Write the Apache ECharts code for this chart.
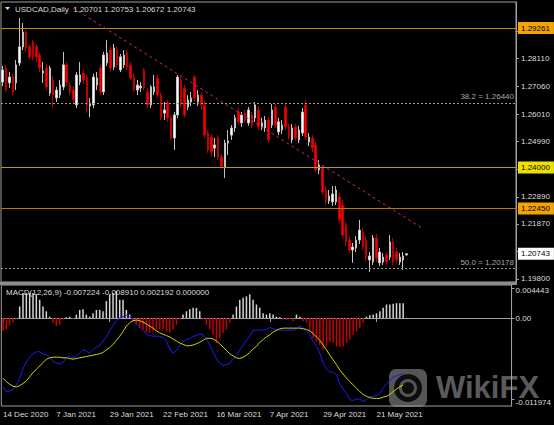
<!DOCTYPE html>
<html><head><meta charset="utf-8">
<script src="https://cdn.jsdelivr.net/npm/echarts@6.0.0/dist/echarts.min.js"></script>
<style>html,body{margin:0;padding:0;background:#000;}#c{width:554px;height:425px;}</style>
</head><body><div id="c"></div>
<script>
// ---- data ----
const symbolName = 'USDCAD,Daily';
const dateLabels = ['14 Dec 2020','7 Jan 2021','29 Jan 2021','22 Feb 2021','16 Mar 2021','7 Apr 2021','29 Apr 2021','21 May 2021'];
const dateLabelIdx = [0,16,32,48,64,80,96,112];
const priceTicks = [1.29150,1.28110,1.27060,1.26010,1.24990,1.23940,1.22890,1.21870,1.20820,1.19800];
const priceLabels = [1.29150,1.28110,1.27060,1.26010,1.24990,1.22890,1.21870,1.19800];
const macdTicks = [0.004443, 0, -0.011974];
const hLines = [1.29261, 1.24000, 1.22450];
const fibNames = ['38.2','50.0'];
const fibLevels = [1.26440, 1.20178];
const trendStart = [21, 1.3001];
const trendEnd = [125, 1.2168];
const macdLegendValues = ['-0.007224','-0.008910','0.002192','0.000000'];

const open = [1.2722,1.2775,1.2719,1.2741,1.2719,1.2794,1.2855,1.2911,1.2855,1.2873,
1.2855,1.2824,1.2756,1.2775,1.2681,1.2730,1.2662,1.2673,1.2704,1.2787,
1.2711,1.2692,1.2636,1.2722,1.2756,1.2738,1.2632,1.2636,1.2711,1.2775,
1.2685,1.2794,1.2843,1.2779,1.2843,1.2768,1.2787,1.2832,1.2787,1.2741,
1.2692,1.2700,1.2768,1.2685,1.2636,1.2685,1.2738,1.2673,1.2605,1.2647,
1.2587,1.2511,1.2598,1.2730,1.2700,1.2628,1.2647,1.2741,1.2647,1.2673,
1.2636,1.2530,1.2515,1.2473,1.2511,1.2439,1.2402,1.2492,1.2522,1.2549,
1.2609,1.2568,1.2605,1.2568,1.2598,1.2587,1.2617,1.2553,1.2549,1.2579,
1.2560,1.2628,1.2534,1.2541,1.2628,1.2553,1.2504,1.2553,1.2504,1.2530,
1.2636,1.2496,1.2511,1.2485,1.2390,1.2398,1.2315,1.2274,1.2270,1.2270,
1.2289,1.2258,1.2183,1.2126,1.2089,1.2096,1.2126,1.2157,1.2126,1.2051,
1.2043,1.2134,1.2040,1.2043,1.2070,1.2062,1.2119,1.2081,1.2043,1.2051,
1.20701];
const close = [1.2768,1.2692,1.2741,1.2685,1.2787,1.2855,1.2911,1.2851,1.2817,1.2817,
1.2817,1.2775,1.2764,1.2704,1.2775,1.2673,1.2692,1.2711,1.2787,1.2722,
1.2685,1.2655,1.2749,1.2749,1.2730,1.2636,1.2643,1.2741,1.2738,1.2685,
1.2824,1.2832,1.2775,1.2851,1.2787,1.2817,1.2824,1.2779,1.2738,1.2692,
1.2711,1.2707,1.2700,1.2636,1.2704,1.2704,1.2673,1.2590,1.2617,1.2587,
1.2511,1.2598,1.2741,1.2636,1.2598,1.2655,1.2662,1.2662,1.2673,1.2636,
1.2522,1.2466,1.2458,1.2485,1.2439,1.2402,1.2492,1.2500,1.2549,1.2587,
1.2572,1.2598,1.2579,1.2617,1.2560,1.2636,1.2553,1.2568,1.2579,1.2504,
1.2617,1.2560,1.2572,1.2560,1.2553,1.2515,1.2549,1.2511,1.2541,1.2609,
1.2515,1.2515,1.2473,1.2390,1.2409,1.2307,1.2270,1.2292,1.2300,1.2315,
1.2202,1.2145,1.2119,1.2089,1.2100,1.2126,1.2164,1.2100,1.2058,1.2066,
1.2134,1.2058,1.2081,1.2062,1.2043,1.2119,1.2043,1.2051,1.2062,1.2066,
1.20743];
const low = [1.2707,1.2685,1.2700,1.2673,1.2692,1.2783,1.2843,1.2836,1.2805,1.2805,
1.2798,1.2760,1.2719,1.2692,1.2670,1.2628,1.2647,1.2662,1.2692,1.2707,
1.2673,1.2639,1.2624,1.2711,1.2715,1.2605,1.2590,1.2624,1.2692,1.2673,
1.2673,1.2783,1.2760,1.2768,1.2775,1.2760,1.2775,1.2768,1.2730,1.2685,
1.2673,1.2685,1.2692,1.2624,1.2624,1.2673,1.2662,1.2579,1.2579,1.2572,
1.2504,1.2466,1.2587,1.2624,1.2587,1.2617,1.2632,1.2647,1.2632,1.2617,
1.2511,1.2455,1.2443,1.2439,1.2428,1.2398,1.2360,1.2447,1.2504,1.2534,
1.2560,1.2553,1.2568,1.2557,1.2549,1.2572,1.2541,1.2541,1.2534,1.2492,
1.2549,1.2549,1.2522,1.2526,1.2541,1.2504,1.2492,1.2500,1.2492,1.2519,
1.2504,1.2481,1.2458,1.2383,1.2375,1.2296,1.2258,1.2262,1.2255,1.2258,
1.2194,1.2134,1.2104,1.2077,1.2040,1.2081,1.2111,1.2089,1.2047,1.2006,
1.2032,1.2043,1.2028,1.2032,1.2032,1.2051,1.2032,1.2040,1.2032,1.2013,
1.20672];
const high = [1.2783,1.2787,1.2760,1.2753,1.2805,1.2964,1.2945,1.2919,1.2866,1.2881,
1.2866,1.2836,1.2798,1.2790,1.2783,1.2745,1.2704,1.2730,1.2836,1.2798,
1.2722,1.2707,1.2760,1.2798,1.2768,1.2749,1.2662,1.2753,1.2760,1.2787,
1.2836,1.2881,1.2858,1.2866,1.2855,1.2828,1.2843,1.2843,1.2798,1.2753,
1.2730,1.2722,1.2775,1.2700,1.2711,1.2749,1.2749,1.2685,1.2647,1.2655,
1.2598,1.2609,1.2749,1.2741,1.2711,1.2673,1.2685,1.2749,1.2692,1.2685,
1.2655,1.2541,1.2526,1.2511,1.2522,1.2451,1.2504,1.2541,1.2560,1.2598,
1.2624,1.2609,1.2617,1.2628,1.2609,1.2647,1.2632,1.2587,1.2594,1.2590,
1.2639,1.2639,1.2587,1.2579,1.2639,1.2564,1.2564,1.2564,1.2557,1.2624,
1.2655,1.2530,1.2522,1.2496,1.2428,1.2409,1.2330,1.2315,1.2330,1.2330,
1.2304,1.2277,1.2194,1.2141,1.2115,1.2141,1.2202,1.2172,1.2141,1.2081,
1.2145,1.2149,1.2096,1.2077,1.2081,1.2145,1.2134,1.2096,1.2077,1.2081,
1.20753];
const hist = [-0.0019,-0.0017,-0.0011,-0.0006,-0.0001,0.0017,0.0037,0.0037,0.0037,0.0037,
0.0035,0.0027,0.0017,0.0010,0.0002,-0.0007,-0.0012,-0.0010,-0.0002,0.0001,
0.0002,-0.0001,0.0005,0.0012,0.0013,0.0005,0.0002,0.0007,0.0012,0.0012,
0.0010,0.0025,0.0035,0.0037,0.0040,0.0027,0.0027,0.0012,0.0005,-0.0005,
-0.0010,-0.0015,-0.0017,-0.0021,-0.0022,-0.0020,-0.0017,-0.0017,-0.0017,-0.0020,
-0.0022,-0.0017,-0.0010,-0.0002,0.0005,0.0010,0.0013,0.0015,0.0015,0.0010,
-0.0002,-0.0010,-0.0017,-0.0025,-0.0037,-0.0030,-0.0022,-0.0017,-0.0007,0.0005,
0.0017,0.0027,0.0030,0.0032,0.0035,0.0027,0.0020,0.0015,0.0007,0.0005,
0.0007,0.0005,0.0002,0.0001,-0.0002,-0.0003,-0.0002,-0.0005,0.0005,0.0002,
-0.0005,-0.0007,-0.0020,-0.0030,-0.0035,-0.0040,-0.0047,-0.0042,-0.0035,-0.0037,
-0.0042,-0.0043,-0.0042,-0.0037,-0.0032,-0.0025,-0.0020,-0.0015,-0.0007,0.0002,
0.0004,0.0005,0.0007,0.0010,0.0015,0.0020,0.0020,0.0021,0.0022,0.0022,
0.002192];
const macd = [-0.0102,-0.0109,-0.0108,-0.0106,-0.0099,-0.0090,-0.0075,-0.0065,-0.0058,-0.0053,
-0.0050,-0.0050,-0.0053,-0.0055,-0.0057,-0.0064,-0.0067,-0.0068,-0.0066,-0.0058,
-0.0057,-0.0059,-0.0057,-0.0052,-0.0047,-0.0049,-0.0052,-0.0047,-0.0043,-0.0041,
-0.0034,-0.0028,-0.0019,-0.0011,-0.0004,0.0000,0.0002,0.0004,0.0002,-0.0003,
-0.0009,-0.0013,-0.0018,-0.0024,-0.0026,-0.0027,-0.0027,-0.0027,-0.0029,-0.0034,
-0.0046,-0.0052,-0.0048,-0.0041,-0.0035,-0.0032,-0.0030,-0.0027,-0.0026,-0.0024,
-0.0025,-0.0031,-0.0040,-0.0050,-0.0060,-0.0067,-0.0070,-0.0069,-0.0067,-0.0061,
-0.0055,-0.0047,-0.0040,-0.0033,-0.0027,-0.0018,-0.0018,-0.0018,-0.0018,-0.0017,
-0.0014,-0.0016,-0.0017,-0.0018,-0.0018,-0.0018,-0.0018,-0.0018,-0.0016,-0.0012,
-0.0014,-0.0019,-0.0025,-0.0035,-0.0042,-0.0052,-0.0067,-0.0075,-0.0080,-0.0080,
-0.0084,-0.0097,-0.0105,-0.0112,-0.0121,-0.0122,-0.0120,-0.0120,-0.0124,-0.0121,
-0.0116,-0.0116,-0.0115,-0.0112,-0.0104,-0.0097,-0.0093,-0.0087,-0.0086,-0.0084,
-0.0082];
const signal = [-0.0089,-0.0094,-0.0098,-0.0101,-0.0102,-0.0100,-0.0097,-0.0093,-0.0087,-0.0081,
-0.0076,-0.0071,-0.0066,-0.0061,-0.0059,-0.0058,-0.0058,-0.0058,-0.0059,-0.0059,
-0.0060,-0.0061,-0.0060,-0.0059,-0.0058,-0.0057,-0.0056,-0.0055,-0.0054,-0.0053,
-0.0051,-0.0047,-0.0044,-0.0039,-0.0033,-0.0027,-0.0020,-0.0012,-0.0007,-0.0004,
-0.0003,-0.0004,-0.0006,-0.0009,-0.0012,-0.0015,-0.0019,-0.0022,-0.0024,-0.0026,
-0.0028,-0.0031,-0.0034,-0.0037,-0.0039,-0.0041,-0.0041,-0.0040,-0.0038,-0.0036,
-0.0033,-0.0030,-0.0030,-0.0031,-0.0034,-0.0038,-0.0043,-0.0048,-0.0053,-0.0056,
-0.0059,-0.0060,-0.0058,-0.0055,-0.0051,-0.0046,-0.0042,-0.0036,-0.0032,-0.0028,
-0.0025,-0.0021,-0.0018,-0.0016,-0.0015,-0.0015,-0.0015,-0.0015,-0.0015,-0.0015,
-0.0016,-0.0017,-0.0019,-0.0023,-0.0028,-0.0033,-0.0040,-0.0047,-0.0055,-0.0062,
-0.0069,-0.0077,-0.0083,-0.0089,-0.0094,-0.0099,-0.0104,-0.0109,-0.0113,-0.0116,
-0.0118,-0.0119,-0.0119,-0.0119,-0.0117,-0.0116,-0.0113,-0.0109,-0.0105,-0.0102,
-0.0099];

// ---- chart ----
const FONT = "'Liberation Sans',Arial,sans-serif";
const FS = 8;
const TXT = '#dcdcdc';
const AX = '#a0a0a0';
const N_SLOTS = 153;
const cats = Array.from({length: N_SLOTS}, (_, i) => String(i));
const labelMap = {};
dateLabelIdx.forEach((k, j) => { labelMap[k] = dateLabels[j]; });
const candles = open.map((o, i) => [o, close[i], low[i], high[i]]);
const last = open.length - 1;
const titleText = symbolName + '  ' + [open[last], high[last], low[last], close[last]].map(v => v.toFixed(5)).join(' ');
const macdText = 'MACD(12,26,9) ' + macdLegendValues.join(' ');

function tagLabel(text, bg, fg) {
  return {show: true, position: 'end', distance: 2, formatter: text,
    backgroundColor: bg, color: fg, fontSize: FS, fontFamily: FONT, padding: [2, 4, 1, 3], lineHeight: 9};
}
const hColors = [['#c8860a', '#f5a300'], ['#b0a010', '#f0e000'], ['#b47a0e', '#f5a300']];
const markData = hLines.map((v, k) => ({
  yAxis: v, lineStyle: {color: hColors[k][0], width: 1, type: 'solid'}, label: tagLabel(v.toFixed(5), hColors[k][1], '#000')
}));
fibLevels.forEach((v, k) => markData.push({
  yAxis: v, lineStyle: {color: '#9a9a9a', width: 1, type: [2, 2]},
  label: {show: true, position: 'insideEndTop', distance: 2, formatter: fibNames[k] + ' = ' + v.toFixed(5),
    color: '#a8a8a8', fontSize: FS, fontFamily: FONT}
}));
markData.push({
  yAxis: close[last], lineStyle: {color: 'rgba(0,0,0,0)', width: 0},
  label: tagLabel(close[last].toFixed(5), '#ffffff', '#000')
});
markData.push([
  {coord: [String(trendStart[0]), trendStart[1]], lineStyle: {color: '#c8208c', width: 1, type: [3, 3]}, label: {show: false}},
  {coord: [String(trendEnd[0]), trendEnd[1]]}
]);
const richBase = {color: TXT, fontSize: FS, fontFamily: FONT};

const chart = echarts.init(document.getElementById('c'), null, {renderer: 'svg'});
chart.setOption({
  backgroundColor: '#000',
  animation: false,
  title: [
    {text: titleText, left: 15, top: 5, padding: 0, textStyle: {color: TXT, fontSize: FS, fontWeight: 'normal', fontFamily: FONT}},
    {text: macdText, left: 6, top: 288, padding: 0, textStyle: {color: TXT, fontSize: FS, fontWeight: 'normal', fontFamily: FONT}}
  ],
  graphic: [
    {type: 'polygon', shape: {points: [[5, 7], [10, 7], [7.5, 10]]}, style: {fill: TXT}},
    {type: 'rect', z: -10, shape: {x: 389, y: 369, width: 38, height: 38, r: 7}, style: {fill: '#555555'}},
    {type: 'circle', z: -9, shape: {cx: 408, cy: 388, r: 14}, style: {fill: '#0d0d0d'}},
    {type: 'circle', z: -8, shape: {cx: 408, cy: 388, r: 7.5}, style: {fill: 'none', stroke: '#555555', lineWidth: 3}},
    {type: 'text', z: -10, x: 436, y: 387, style: {text: 'WikiFX', fill: '#5a5a5a', fontSize: 31, fontWeight: 'bold', fontFamily: "'Liberation Sans',Arial,sans-serif", verticalAlign: 'middle'}},
    {type: 'rect', shape: {x: 0, y: 282, width: 517, height: 3}, style: {fill: '#8c8c8c'}}
  ],
  grid: [
    {left: 1, right: 38, top: 2, height: 280, show: true, borderColor: AX, borderWidth: 1},
    {left: 1, right: 38, top: 285, height: 121, show: true, borderColor: AX, borderWidth: 1}
  ],
  xAxis: [
    {type: 'category', gridIndex: 0, data: cats, boundaryGap: true, show: false},
    {type: 'category', gridIndex: 1, data: cats, boundaryGap: true,
      axisLine: {show: true, lineStyle: {color: AX}},
      axisTick: {show: true, alignWithLabel: true, interval: (i) => (i in labelMap), length: 4, lineStyle: {color: AX}},
      axisLabel: {interval: (i) => (i in labelMap), formatter: (v, i) => labelMap[i] || '', align: 'left', margin: 4,
        color: TXT, fontSize: FS, fontFamily: FONT},
      splitLine: {show: false}}
  ],
  yAxis: [
    {type: 'value', gridIndex: 0, position: 'right', min: 1.19678, max: 1.30243,
      axisLine: {show: true, lineStyle: {color: AX}},
      axisTick: {show: true, length: 3, customValues: priceTicks, lineStyle: {color: AX}},
      axisLabel: {customValues: priceLabels, formatter: v => v.toFixed(5), margin: 5, color: TXT, fontSize: FS, fontFamily: FONT},
      splitLine: {show: false}},
    {type: 'value', gridIndex: 1, position: 'right', min: -0.013024, max: 0.004884,
      axisLine: {show: true, lineStyle: {color: AX}},
      axisTick: {show: true, length: 3, customValues: macdTicks, lineStyle: {color: AX}},
      axisLabel: {customValues: macdTicks, margin: 4, color: TXT, fontSize: FS, fontFamily: FONT,
        formatter: v => (v === 0 ? '0.00' : (v > 0 ? '{hi|' + v.toFixed(6) + '}' : '{lo|' + v.toFixed(6) + '}')),
        rich: {hi: Object.assign({padding: [5, 0, 0, 0]}, richBase), lo: Object.assign({padding: [7, 0, 0, 0]}, richBase)}},
      splitLine: {show: false}}
  ],
  series: [
    {type: 'candlestick', xAxisIndex: 0, yAxisIndex: 0, data: candles, barWidth: 2,
      itemStyle: {color: '#ffffff', color0: '#ff0000', borderColor: '#c4c4c4', borderColor0: '#c00000', borderWidth: 1},
      markLine: {symbol: ['none', 'none'], silent: true, animation: false, precision: 6, data: markData}},
    {type: 'bar', xAxisIndex: 1, yAxisIndex: 1, data: hist, barWidth: 1.5,
      itemStyle: {color: p => (p.value >= 0 ? '#d4d4d4' : '#c80000')}},
    {type: 'line', xAxisIndex: 1, yAxisIndex: 1, data: macd, symbol: 'none', lineStyle: {color: '#1c1cff', width: 1}},
    {type: 'line', xAxisIndex: 1, yAxisIndex: 1, data: signal, symbol: 'none', lineStyle: {color: '#d2d200', width: 1}}
  ]
});
</script></body></html>
